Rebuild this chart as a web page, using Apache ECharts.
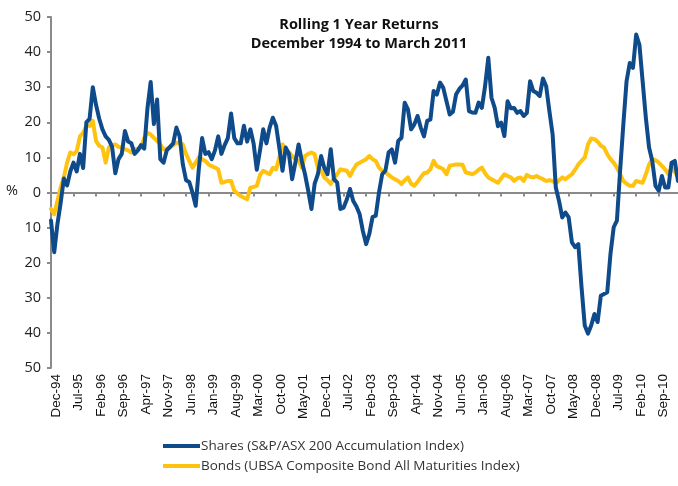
<!DOCTYPE html>
<html>
<head>
<meta charset="utf-8">
<script src="https://cdn.jsdelivr.net/npm/echarts@6/dist/echarts.min.js"></script>
<style>
  html, body { margin: 0; padding: 0; background: #fff; }
  #chart { width: 678px; height: 486px; }
</style>
</head>
<body>
<div id="chart"></div>
<script>
// monthly categories Dec-94 .. Mar-11
const monthNames = ['Jan', 'Feb', 'Mar', 'Apr', 'May', 'Jun', 'Jul', 'Aug', 'Sep', 'Oct', 'Nov', 'Dec'];
const months = [];
for (let y = 1994, m = 11; y < 2011 || m <= 2; ) {
  months.push(monthNames[m] + '-' + String(y % 100).padStart(2, '0'));
  m++;
  if (m > 11) { m = 0; y++; }
}

const yTicks = [-50, -40, -30, -20, -10, 0, 10, 20, 30, 40, 50];

// rolling 1 year returns, %
const shares = [
  -8, -17, -9, -3, 4, 2, 6, 8.5, 6, 11, 7, 20, 21, 30, 25, 21, 18, 16, 15, 13,
  5.5, 9.5, 11, 17.5, 14.5, 14, 11, 12, 13.5, 12.5, 24, 31.5, 19.5, 26.5, 9.5, 8.5, 12, 13, 14, 18.5,
  16, 8, 3.5, 3, 0, -3.8, 7, 15.5, 11, 11.5, 9.5, 12, 16, 11, 13.5, 15.5, 22.5, 15.5, 14, 14,
  19, 14.5, 18, 14, 6.5, 12, 18, 14, 18.5, 21.3, 19, 12.8, 6.2, 12.8, 11, 3.8, 8.5, 13.7, 9, 5.2,
  0.5, -4.7, 2.5, 5.2, 10.4, 7, 5.2, 12.3, 3.8, 2.8, -4.7, -4.3, -2, 1, -2.4, -4, -6.2, -11, -14.7, -11.8,
  -7, -6.6, 0, 5.2, 6.2, 11.4, 12.3, 8.5, 14.7, 15.6, 25.6, 23.7, 18, 19.4, 21.8, 18.5, 16, 20.4, 20.8, 28.9,
  27.9, 31.3, 29.8, 26, 22.2, 23, 28, 29.5, 30.5, 32.2, 23.2, 22.8, 22.7, 25.6, 24.1, 30.3, 38.4, 27, 24.1, 18.9,
  19.9, 16.1, 26, 24, 24.1, 22.7, 23.2, 21.8, 22.7, 31.7, 28.9, 28.4, 27.5, 32.5, 30.3, 23.2, 16.6, 1.4, -2.4, -7.1,
  -5.7, -7.1, -14.2, -15.6, -14.7, -27, -37.9, -40.2, -37.9, -34.6, -36.9, -29.4, -28.9, -28.4, -17.5, -9.9, -8, 6.2, 19.4, 31.7,
  36.9, 35.5, 45, 42.1, 31.7, 21.3, 12.8, 9, 1.9, 0.5, 4.7, 1.4, 1.4, 8.5, 9, 3.3
];
const bonds = [
  -4.7, -6.2, -2.4, 1.4, 4.3, 8.5, 11.4, 10.9, 11.8, 16, 17, 19, 19, 20.4, 14.7, 13.3, 12.8, 8.5, 12.8, 13.5,
  13.7, 13, 12.8, 12.3, 12, 11.4, 12.3, 12.5, 12.8, 15.6, 17, 16.5, 15.6, 14.7, 13.7, 12.3, 12.5, 12.8, 13.5, 14.2,
  14, 13.7, 11, 9, 7.1, 8.5, 10, 9.5, 9, 8, 7.5, 7.1, 6.6, 2.8, 3, 3.3, 3.3, 0.5, -0.3, -1,
  -1.5, -1.9, 1.4, 1.6, 1.9, 5, 6.2, 5.7, 5.2, 7, 6.6, 10, 13.7, 12.3, 11.5, 10.4, 9.5, 9, 7.1, 10.4,
  11, 11.4, 10.9, 7, 6.2, 4.3, 3.5, 2.4, 4, 5.2, 6.6, 6.4, 6.2, 4.7, 6.5, 8, 8.5, 9, 9.5, 10.4,
  9.5, 9, 7.1, 6.2, 5.7, 5, 4.3, 3.8, 3.3, 2.4, 3.5, 4.3, 2.5, 1.9, 3, 4.3, 5.5, 5.7, 6.6, 9,
  7.5, 7.1, 6.6, 5.2, 7.6, 7.8, 8, 8, 7.9, 5.7, 5.5, 5.2, 5.7, 6.5, 7.1, 5.5, 4.3, 3.8, 3.3, 2.8,
  4, 5.2, 4.7, 4.3, 3.3, 4, 4.3, 3.3, 5, 4.5, 4.3, 4.7, 4.2, 3.8, 3.3, 3.5, 3.3, 2.6, 3.5, 4.3,
  3.8, 4.5, 5.2, 6.5, 8, 9, 10, 13.7, 15.4, 15.2, 14.5, 13.3, 12.8, 10.9, 9.5, 8.5, 7.1, 5.2, 3.3, 2.5,
  1.9, 1.9, 3.3, 3, 2.8, 5.2, 8, 9.5, 9.2, 8.5, 7.6, 6.6, 5.2, 7, 6, 4.3
];

const sharesName = 'Shares (S&P/ASX 200 Accumulation Index)';
const bondsName = 'Bonds (UBSA Composite Bond All Maturities Index)';

const chart = echarts.init(document.getElementById('chart'));
const axisGrey = '#8a8a8a';

chart.setOption({
  animation: false,
  title: {
    text: 'Rolling 1 Year Returns\nDecember 1994 to March 2011',
    left: 354,
    top: 10,
    textAlign: 'center',
    textStyle: {
      fontFamily: 'Open Sans',
      fontWeight: 'bold',
      fontSize: 14.5,
      lineHeight: 19,
      color: '#111'
    }
  },
  legend: {
    orient: 'vertical',
    left: 158,
    top: 434,
    data: [sharesName, bondsName],
    icon: 'rect',
    itemWidth: 37,
    itemHeight: 4,
    itemGap: 6,
    textStyle: { fontFamily: 'Open Sans', fontSize: 13.5, color: '#333', padding: [0, 0, 0, -4] }
  },
  grid: { left: 51, right: 0, top: 17, bottom: 118 },
  xAxis: [
    {
      type: 'category',
      data: months,
      boundaryGap: false,
      axisLine: { show: false, onZero: false },
      axisTick: { show: false },
      axisLabel: {
        interval: 6,
        rotate: 90,
        margin: 6,
        verticalAlign: 'top',
        lineHeight: 10,
        fontFamily: 'Liberation Sans',
        fontSize: 13.5,
        color: '#111'
      }
    },
    {
      type: 'category',
      data: months,
      boundaryGap: false,
      position: 'bottom',
      axisLine: { onZero: true, lineStyle: { color: axisGrey, width: 2 } },
      axisTick: { interval: 6, length: 4, lineStyle: { color: axisGrey, width: 2 } },
      axisLabel: { show: false }
    }
  ],
  yAxis: {
    type: 'value',
    min: yTicks[0],
    max: yTicks[yTicks.length - 1],
    interval: 10,
    splitLine: { show: false },
    axisLine: { show: true, lineStyle: { color: axisGrey, width: 2 } },
    axisTick: { show: true, length: 4, lineStyle: { color: axisGrey, width: 2 } },
    axisLabel: {
      margin: 10,
      fontFamily: 'Open Sans',
      fontSize: 14.5,
      color: '#222',
      formatter: v => String(Math.abs(v))
    }
  },
  graphic: [{
    type: 'text',
    left: 6,
    top: 183,
    style: { text: '%', fontFamily: 'Open Sans', fontSize: 14.5, fill: '#222' }
  }],
  series: [
    {
      name: bondsName,
      type: 'line',
      data: bonds,
      showSymbol: false,
      color: '#FFC20E',
      lineStyle: { width: 4, color: '#FFC20E', join: 'round', cap: 'round' }
    },
    {
      name: sharesName,
      type: 'line',
      data: shares,
      showSymbol: false,
      color: '#0F4A8A',
      lineStyle: { width: 4, color: '#0F4A8A', join: 'round', cap: 'round' }
    }
  ]
});
</script>
</body>
</html>
